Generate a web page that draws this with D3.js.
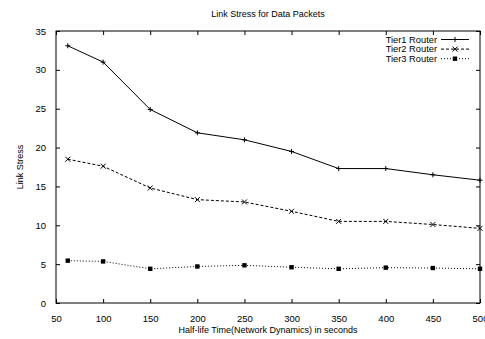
<!DOCTYPE html>
<html>
<head>
<meta charset="utf-8">
<script src="https://cdn.jsdelivr.net/npm/d3@7"></script>
<style>
  body { margin: 0; background: #fff; }
  text { font-family: 'Liberation Sans', Arial, sans-serif; fill: #000; }
</style>
</head>
<body>
<div id="chart"></div>
<script>
var halfLife = [62.5, 100, 150, 200, 250, 300, 350, 400, 450, 500];
var tier1 = [33.1, 31.0, 24.9, 21.9, 21.0, 19.5, 17.3, 17.3, 16.5, 15.8];
var tier2 = [18.5, 17.6, 14.8, 13.3, 13.0, 11.8, 10.5, 10.5, 10.1, 9.6];
var tier3 = [5.45, 5.35, 4.4, 4.7, 4.85, 4.6, 4.4, 4.55, 4.5, 4.4];
var seriesNames = ['Tier1 Router', 'Tier2 Router', 'Tier3 Router'];
var xTicks = [50, 100, 150, 200, 250, 300, 350, 400, 450, 500];
var yTicks = [0, 5, 10, 15, 20, 25, 30, 35];

var W = 485, H = 339;
var margin = { top: 31, right: 5, bottom: 36, left: 56 };
var width = W - margin.left - margin.right;
var height = H - margin.top - margin.bottom;

var x = d3.scaleLinear().domain([50, 500]).range([0, width]);
var y = d3.scaleLinear().domain([0, 35]).range([height, 0]);

var svg = d3.select('#chart').append('svg')
    .attr('width', W)
    .attr('height', H);

svg.append('text')
    .attr('x', margin.left + width / 2)
    .attr('y', 16.5)
    .attr('text-anchor', 'middle')
    .style('font-size', '9px')
    .text('Link Stress for Data Packets');

svg.append('text')
    .attr('transform', 'rotate(-90)')
    .attr('x', -(margin.top + height / 2))
    .attr('y', 23)
    .attr('text-anchor', 'middle')
    .style('font-size', '9px')
    .text('Link Stress');

svg.append('text')
    .attr('x', margin.left + width / 2)
    .attr('y', 333)
    .attr('text-anchor', 'middle')
    .style('font-size', '9px')
    .text('Half-life Time(Network Dynamics) in seconds');

var g = svg.append('g')
    .attr('transform', 'translate(' + margin.left + ',' + margin.top + ')');

// gnuplot style: inward ticks mirrored on all sides
function styleAxis(sel) {
    sel.select('.domain').remove();
    sel.selectAll('.tick line').attr('stroke', '#000').attr('stroke-width', 1);
    sel.selectAll('.tick text').style('font-size', '9.5px').style('font-family', "'Liberation Sans', Arial, sans-serif");
}

g.append('g')
    .attr('transform', 'translate(0,' + height + ')')
    .call(d3.axisBottom(x).tickValues(xTicks).tickSize(-4).tickPadding(12).tickFormat(d3.format('d')))
    .call(styleAxis);
g.append('g')
    .call(d3.axisTop(x).tickValues(xTicks).tickSize(-4).tickFormat(''))
    .call(styleAxis);
g.append('g')
    .call(d3.axisLeft(y).tickValues(yTicks).tickSize(-4).tickPadding(10).tickFormat(d3.format('d')))
    .call(styleAxis);
g.append('g')
    .attr('transform', 'translate(' + width + ',0)')
    .call(d3.axisRight(y).tickValues(yTicks).tickSize(-4).tickFormat(''))
    .call(styleAxis);

g.append('rect')
    .attr('width', width)
    .attr('height', height)
    .attr('fill', 'none')
    .attr('stroke', '#000')
    .attr('stroke-width', 1);

var series = [
    { name: seriesNames[0], values: tier1, dash: null, mark: 'plus' },
    { name: seriesNames[1], values: tier2, dash: '3,2', mark: 'cross' },
    { name: seriesNames[2], values: tier3, dash: '1,2', mark: 'square' }
];

var line = d3.line()
    .x(function (d) { return x(d[0]); })
    .y(function (d) { return y(d[1]); });

function drawMark(sel, type, cx, cy) {
    var s = 2.5;
    if (type === 'plus') {
        sel.append('path')
            .attr('d', 'M' + (cx - s) + ',' + cy + 'H' + (cx + s) + 'M' + cx + ',' + (cy - s) + 'V' + (cy + s))
            .attr('stroke', '#000').attr('stroke-width', 1);
    } else if (type === 'cross') {
        sel.append('path')
            .attr('d', 'M' + (cx - s) + ',' + (cy - s) + 'L' + (cx + s) + ',' + (cy + s) +
                'M' + (cx - s) + ',' + (cy + s) + 'L' + (cx + s) + ',' + (cy - s))
            .attr('stroke', '#000').attr('stroke-width', 1);
    } else {
        sel.append('rect')
            .attr('x', cx - 2.2).attr('y', cy - 2.2)
            .attr('width', 4.4).attr('height', 4.4)
            .attr('fill', '#000');
    }
}

series.forEach(function (s) {
    var pts = halfLife.map(function (h, i) { return [h, s.values[i]]; });
    g.append('path')
        .datum(pts)
        .attr('fill', 'none')
        .attr('stroke', '#000')
        .attr('stroke-width', 1)
        .attr('stroke-dasharray', s.dash)
        .attr('d', line);
    var mg = g.append('g');
    pts.forEach(function (p) {
        drawMark(mg, s.mark, x(p[0]), y(p[1]));
    });
});

// legend
var legend = svg.append('g');
series.forEach(function (s, i) {
    var ly = 39.5 + i * 9.6;
    legend.append('text')
        .attr('x', 437)
        .attr('y', ly + 3.3)
        .attr('text-anchor', 'end')
        .style('font-size', '9.3px')
        .text(s.name);
    legend.append('line')
        .attr('x1', 441).attr('x2', 469)
        .attr('y1', ly).attr('y2', ly)
        .attr('stroke', '#000')
        .attr('stroke-width', 1)
        .attr('stroke-dasharray', s.dash);
    drawMark(legend, s.mark, 455, ly);
});
</script>
</body>
</html>
